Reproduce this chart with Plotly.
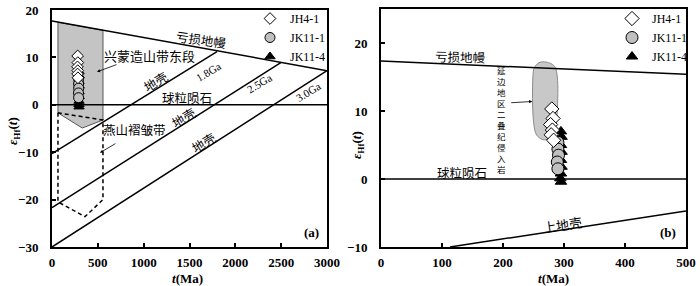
import plotly.graph_objects as go

# ---------------- data ----------------
# zircon samples (t in Ma, epsilon Hf(t))
JH41_T = [280, 282, 278, 281, 279, 283]
JH41_E = [10.3, 8.9, 8.0, 7.2, 6.5, 5.7]
JK111_T = [290, 290, 291, 289, 290]
JK111_E = [5.4, 4.4, 3.5, 2.5, 1.5]
JK114_T = [295, 296, 295, 296, 295, 296, 295, 294, 295]
JK114_E = [7.0, 6.2, 5.0, 4.0, 2.8, 1.8, 0.8, 0.1, -0.4]

# panel (a) reference lines
DM_A_T = [0, 3000]
DM_A_E = [17.7, 7.2]
CHUR_A_T = [0, 3000]
CHUR_A_E = [0, 0]
CR18_T = [0, 1800]
CR18_E = [-10.3, 11.2]
CR25_T = [0, 2500]
CR25_E = [-21.7, 8.95]
CR30_T = [0, 3000]
CR30_E = [-30, 7.2]
# 兴蒙造山带东段 field (grey) and 燕山褶皱带 field (dashed)
XM_T = [65, 556, 556, 330, 65, 65]
XM_E = [17.4, 15.7, -3.2, -4.9, -1.7, 17.4]
YS_T = [65, 65, 360, 556, 556, 65]
YS_E = [-1.7, -20.5, -23.6, -20.0, -3.2, -1.7]

# panel (b) reference lines
DM_B_T = [0, 500]
DM_B_E = [17.35, 15.4]
CHUR_B_T = [0, 500]
CHUR_B_E = [0, 0]
UC_T = [113, 500]
UC_E = [-10, -4.7]
# 延边地区二叠纪侵入岩 field
YB_T = [256, 262, 275, 285, 289, 289, 286, 278, 265, 255, 250, 249, 251, 256]
YB_E = [16.9, 17.2, 17.1, 16.5, 15.0, 10.0, 7.5, 6.0, 5.8, 6.5, 8.5, 15.0, 16.3, 16.9]

X_TICKS_A = [0, 500, 1000, 1500, 2000, 2500, 3000]
Y_TICKS_A = [-30, -20, -10, 0, 10, 20]
X_TICKS_B = [0, 100, 200, 300, 400, 500]
Y_TICKS_B = [-10, 0, 10, 20]

# ---------------- figure ----------------
SERIF = "Liberation Serif"
CJK = "Noto Sans CJK SC"
fig = go.Figure()

def line(xs, ys, xa, ya, width=1.5, dash=None, color="black"):
    fig.add_trace(go.Scatter(x=xs, y=ys, xaxis=xa, yaxis=ya, mode="lines",
                             line=dict(color=color, width=width, dash=dash),
                             showlegend=False, hoverinfo="skip"))

# panel a fields
fig.add_trace(go.Scatter(x=XM_T, y=XM_E, xaxis="x", yaxis="y", mode="lines",
                         fill="toself", fillcolor="#c4c4c4",
                         line=dict(color="#555555", width=1),
                         showlegend=False, hoverinfo="skip"))
line(YS_T, YS_E, "x", "y", width=1.5, dash="4px,3px")
line(DM_A_T, DM_A_E, "x", "y")
line(CHUR_A_T, CHUR_A_E, "x", "y")
line(CR18_T, CR18_E, "x", "y")
line(CR25_T, CR25_E, "x", "y")
line(CR30_T, CR30_E, "x", "y")

# panel b
fig.add_trace(go.Scatter(x=YB_T, y=YB_E, xaxis="x2", yaxis="y2", mode="lines",
                         fill="toself", fillcolor="#c8c8c8",
                         line=dict(color="#8a8a8a", width=1, shape="spline"),
                         showlegend=False, hoverinfo="skip"))
line(DM_B_T, DM_B_E, "x2", "y2")
line(CHUR_B_T, CHUR_B_E, "x2", "y2")
line(UC_T, UC_E, "x2", "y2")

# samples (triangles under circles under diamonds)
samples = [
    ("JK11-4", JK114_T, JK114_E, "triangle-up", "black"),
    ("JK11-1", JK111_T, JK111_E, "circle", "#c0c0c0"),
    ("JH4-1", JH41_T, JH41_E, "diamond", "white"),
]
marker_sizes = {
    "legend": {"JK11-4": 9, "JK11-1": 10, "JH4-1": 9},
    "legend2": {"JK11-4": 10, "JK11-1": 12, "JH4-1": 11},
}
for xa, ya, lg in [("x", "y", "legend"), ("x2", "y2", "legend2")]:
    for name, ts, es, sym, col in samples:
        fig.add_trace(go.Scatter(x=ts, y=es, xaxis=xa, yaxis=ya, mode="markers",
                                 name=name, legend=lg,
                                 marker=dict(symbol=sym, size=marker_sizes[lg][name],
                                             color=col,
                                             line=dict(color="black", width=1))))

axis_common = dict(showline=True, linewidth=2, linecolor="black", mirror=True,
                   ticks="inside", ticklen=4, tickwidth=1.5, tickcolor="black",
                   showgrid=False, zeroline=False, automargin=False,
                   tickfont=dict(family=SERIF, size=13, color="black", weight="bold"))

legend_common = dict(xanchor="left", yanchor="top", bgcolor="rgba(0,0,0,0)",
                     traceorder="reversed", borderwidth=0,
                     font=dict(family=SERIF, size=12, color="black"))

fig.update_layout(
    width=700, height=286, margin=dict(l=0, r=0, t=0, b=0, autoexpand=False),
    paper_bgcolor="white", plot_bgcolor="white",
    xaxis=dict(domain=[52/700, 327/700], range=[0, 3000], tickvals=X_TICKS_A,
               anchor="y", ticklabelstandoff=2, **axis_common),
    yaxis=dict(domain=[39/286, 276/286], range=[-30, 20], tickvals=Y_TICKS_A,
               anchor="x", ticklabelstandoff=9, **axis_common),
    xaxis2=dict(domain=[381/700, 686/700], range=[0, 500], tickvals=X_TICKS_B,
                anchor="y2", ticklabelstandoff=2, **axis_common),
    yaxis2=dict(domain=[39/286, 277/286], range=[-10, 25], tickvals=Y_TICKS_B,
                anchor="x2", ticklabelstandoff=9, **axis_common),
    legend=dict(x=250/700, y=1 - 4/286, **legend_common),
    legend2=dict(x=612/700, y=1 - 4/286, **legend_common),
)

ann = []

def txt(x, y, s, xr, yr, size=12.5, angle=0, family=CJK, bold=False):
    ann.append(dict(x=x, y=y, xref=xr, yref=yr, text=s, showarrow=False,
                    textangle=angle, borderpad=0, xanchor="center", yanchor="middle",
                    font=dict(family=family, size=size, color="black",
                              weight="bold" if bold else "normal")))

# panel a labels
txt(1636, 13.7, "亏损地幔", "x", "y", angle=8)
txt(1069, 10.5, "兴蒙造山带东段", "x", "y", size=13)
txt(1124, 4.9, "地壳", "x", "y", angle=-31)
txt(1702, 7.0, "1.8Ga", "x", "y", size=11, angle=-31, family=SERIF)
txt(2269, 4.6, "2.5Ga", "x", "y", size=11, angle=-31, family=SERIF)
txt(2793, 2.7, "3.0Ga", "x", "y", size=11, angle=-31, family=SERIF)
txt(1473, 1.6, "球粒陨石", "x", "y")
txt(905, -5.3, "燕山褶皱带", "x", "y")
txt(1430, -2.7, "地壳", "x", "y", angle=-31)
txt(1650, -8.0, "地壳", "x", "y", angle=-31)
txt(2836, -27, "(a)", "x", "y", size=13, family=SERIF, bold=True)

# panel b labels
txt(131, 18.0, "亏损地幔", "x2", "y2", angle=1)
txt(133, 0.9, "球粒陨石", "x2", "y2")
txt(298, -6.7, "上地壳", "x2", "y2", size=13, angle=-8)
txt(470, -7.8, "(b)", "x2", "y2", size=13, family=SERIF, bold=True)
txt(198, 8.8, "<br>".join("延边地区二叠纪侵入岩"), "x2", "y2", size=8.5)

# arrows
for (hx, hy, tx, ty, xr, yr) in [(491, 6.96, 720, 8.6, "x", "y"),
                                 (524, -10.1, 709, -8, "x", "y"),
                                 (248, 11.4, 211, 11.2, "x2", "y2")]:
    ann.append(dict(x=hx, y=hy, ax=tx, ay=ty, xref=xr, yref=yr, axref=xr, ayref=yr,
                    showarrow=True, arrowhead=2, arrowsize=0.8, arrowwidth=0.8,
                    arrowcolor="black", text=""))

# axis titles
for xp, yp in [(13/700, 1 - 131/286), (357/700, 1 - 145/286)]:
    ann.append(dict(x=xp, y=yp, xref="paper", yref="paper", showarrow=False,
                    xanchor="center", yanchor="middle",
                    textangle=-90, text="<i>ε</i><sub>Hf</sub>(<i>t</i>)",
                    font=dict(family=SERIF, size=13, color="black", weight="bold")))
for xp in [187/700, 553/700]:
    ann.append(dict(x=xp, y=1 - 278/286, xref="paper", yref="paper", showarrow=False,
                    xanchor="center", yanchor="middle", borderpad=0,
                    text="<i>t</i>(Ma)",
                    font=dict(family=SERIF, size=13, color="black", weight="bold")))

fig.update_layout(annotations=ann)
fig.write_html("out.html",
               config={"displayModeBar": False},
               post_script="document.body.style.margin='0px';"
                           "document.body.style.overflow='hidden';")
